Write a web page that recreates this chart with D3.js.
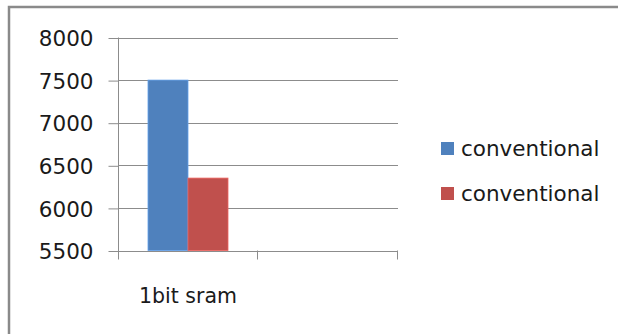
<!DOCTYPE html>
<html>
<head>
<meta charset="utf-8">
<script src="https://cdn.jsdelivr.net/npm/d3@7/dist/d3.min.js"></script>
<style>
  html, body { margin: 0; padding: 0; background: #fff; }
  svg { display: block; }
  text { font-family: "DejaVu Sans", sans-serif; fill: #1a1a1a; }
</style>
</head>
<body>
<svg id="chart" width="618" height="334"></svg>
<script>
// Categories on the x axis (the second slot is left blank)
const categories = ["1bit sram", ""];
// Series names and values per category
const seriesNames = ["conventional", "conventional"];
const seriesA = [7500, null];
const seriesB = [6350, null];
const seriesColors = ["#4f81bd", "#c0504d"];
// Value axis ticks
const yTicks = [5500, 6000, 6500, 7000, 7500, 8000];

const svg = d3.select("#chart");

// Chart frame
svg.append("rect")
  .attr("x", 9).attr("y", 7)
  .attr("width", 640).attr("height", 360)
  .attr("fill", "#fff")
  .attr("stroke", "#8a8a8a")
  .attr("stroke-width", 2.5);

const plot = { left: 118, right: 398, top: 37.5, bottom: 250.5 };

const y = d3.scaleLinear()
  .domain([d3.min(yTicks), d3.max(yTicks)])
  .range([plot.bottom, plot.top]);

const x = d3.scaleBand()
  .domain(categories.map((c, i) => i))
  .range([plot.left, plot.right]);

const inner = d3.scaleBand()
  .domain([0, 1])
  .range([0, x.bandwidth()])
  .paddingOuter(0.75)
  .paddingInner(0);

// Horizontal gridlines
svg.append("g")
  .selectAll("line")
  .data(yTicks)
  .join("line")
  .attr("x1", plot.left).attr("x2", plot.right)
  .attr("y1", d => Math.round(y(d)) + 0.5)
  .attr("y2", d => Math.round(y(d)) + 0.5)
  .attr("stroke", "#8c8c8c")
  .attr("stroke-width", 1);

// Value axis
const yAxis = d3.axisLeft(y)
  .tickValues(yTicks)
  .tickSize(10)
  .tickPadding(15)
  .tickFormat(d3.format("d"));

const gy = svg.append("g")
  .attr("transform", `translate(${plot.left + 0.5},0.5)`)
  .call(yAxis);
gy.select(".domain").remove();
gy.selectAll(".tick line").attr("stroke", "#8c8c8c");
gy.selectAll(".tick text")
  .attr("font-size", 21.5)
  .attr("font-family", "DejaVu Sans, sans-serif")
  .attr("fill", "#1a1a1a")
  .attr("dy", "0.36em");

// Vertical axis line, extended down to the category tick length
svg.append("line")
  .attr("x1", plot.left + 0.5).attr("x2", plot.left + 0.5)
  .attr("y1", plot.top).attr("y2", plot.bottom + 9)
  .attr("stroke", "#8c8c8c");

// Category tick marks at band boundaries
const boundaries = categories.map((c, i) => x(i)).concat([plot.right]);
svg.append("g")
  .selectAll("line")
  .data(boundaries.slice(1))
  .join("line")
  .attr("x1", d => Math.round(d) - 0.5).attr("x2", d => Math.round(d) - 0.5)
  .attr("y1", plot.bottom).attr("y2", plot.bottom + 9)
  .attr("stroke", "#8c8c8c");

// Category labels
svg.append("g")
  .selectAll("text")
  .data(categories)
  .join("text")
  .attr("x", (d, i) => x(i) + x.bandwidth() / 2)
  .attr("y", 303)
  .attr("text-anchor", "middle")
  .attr("font-size", 20.5)
  .text(d => d);

// Bars
const series = [seriesA, seriesB];
series.forEach((vals, s) => {
  svg.append("g")
    .selectAll("rect")
    .data(vals.map((v, i) => ({ v, i })).filter(d => d.v != null))
    .join("rect")
    .attr("x", d => x(d.i) + inner(s))
    .attr("width", inner.bandwidth())
    .attr("y", d => y(d.v))
    .attr("height", d => y(d3.min(yTicks)) - y(d.v))
    .attr("fill", seriesColors[s])
    .attr("stroke", d3.color(seriesColors[s]).brighter(0.6))
    .attr("stroke-width", 0.8);
});

// Legend
const legend = svg.append("g").attr("transform", "translate(441,142)");
seriesNames.forEach((name, s) => {
  const row = legend.append("g").attr("transform", `translate(0,${s * 45})`);
  row.append("rect")
    .attr("width", 13).attr("height", 13)
    .attr("fill", seriesColors[s]);
  row.append("text")
    .attr("x", 20).attr("y", 13.5)
    .attr("font-size", 21.5)
    .text(name);
});
</script>
</body>
</html>
